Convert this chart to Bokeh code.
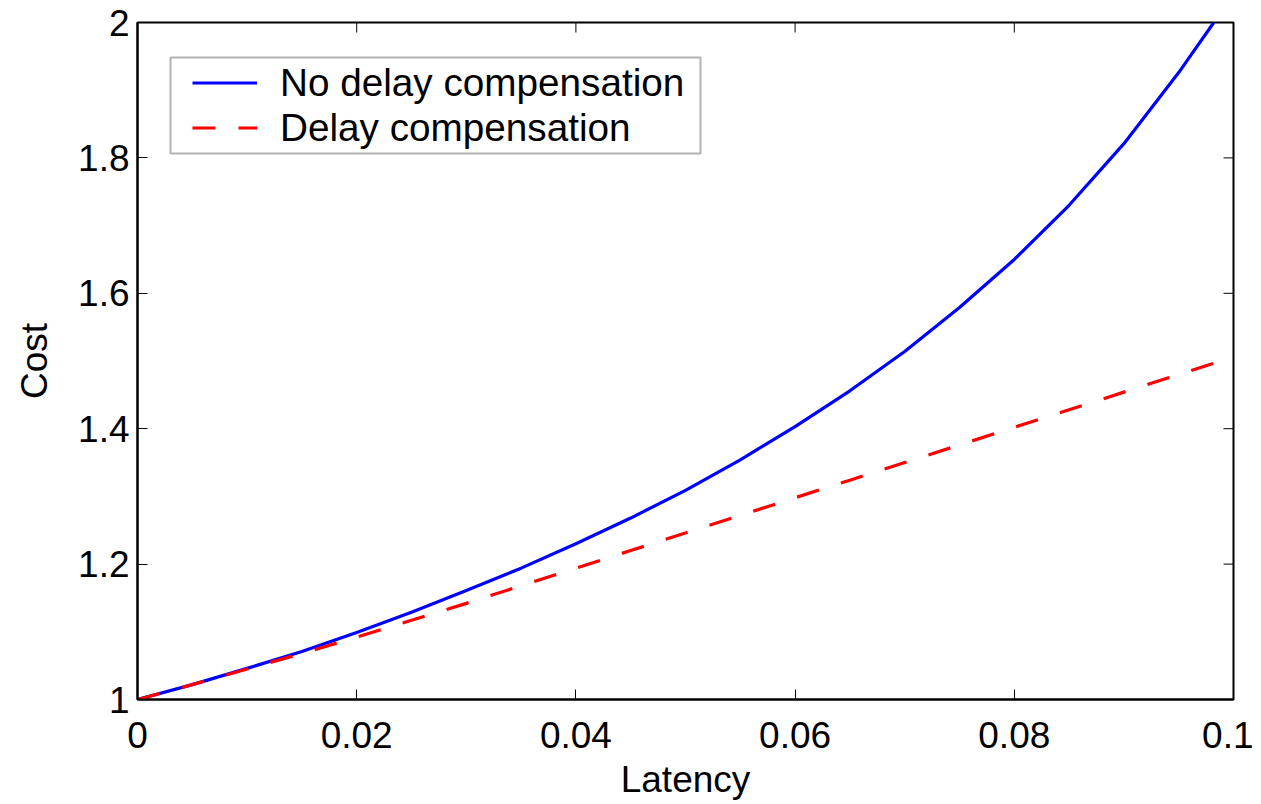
import math
from bokeh.plotting import figure
from bokeh.models import Range1d, FixedTicker, NumeralTickFormatter, BoxAnnotation
from bokeh.embed import file_html
from bokeh.resources import INLINE

# Data
latency = [0.0, 0.005, 0.01, 0.015, 0.02, 0.025, 0.03, 0.035, 0.04, 0.045, 0.05,
           0.055, 0.06, 0.065, 0.07, 0.075, 0.08, 0.085, 0.09, 0.095, 0.0982]
cost_no_comp = [1.000, 1.022, 1.046, 1.071, 1.099, 1.129, 1.161, 1.194, 1.230, 1.268, 1.309,
                1.354, 1.403, 1.456, 1.514, 1.579, 1.650, 1.730, 1.821, 1.926, 2.000]

latency_comp = [0.0, 0.005, 0.01, 0.015, 0.02, 0.025, 0.03, 0.035, 0.04, 0.045, 0.05,
                0.055, 0.06, 0.065, 0.07, 0.075, 0.08, 0.085, 0.09, 0.095, 0.1]
cost_comp = [1.000, 1.022, 1.045, 1.068, 1.092, 1.117, 1.142, 1.168, 1.194, 1.220, 1.246,
             1.272, 1.298, 1.324, 1.350, 1.376, 1.402, 1.428, 1.454, 1.480, 1.506]

x_ticks = [0, 0.02, 0.04, 0.06, 0.08, 0.1]
y_ticks = [1, 1.2, 1.4, 1.6, 1.8, 2]

series_names = ["No delay compensation", "Delay compensation"]

FONT = "Liberation Sans"
FS = "37px"
LEG_FS = "38.7px"

X0, X1 = 0, 0.1
Y0, Y1 = 1, 2

p = figure(frame_width=1096, frame_height=677,
           min_border_left=137, min_border_right=20, min_border_top=22, min_border_bottom=97,
           x_range=Range1d(X0, X1), y_range=Range1d(Y0, Y1),
           output_backend="svg", toolbar_location=None)

p.grid.visible = False
p.background_fill_color = "white"
p.border_fill_color = "white"
p.outline_line_color = "black"
p.outline_line_width = 2

p.line(latency, cost_no_comp, line_color="#0000ff", line_width=3.2,
       line_join="round", legend_label=series_names[0])
p.line(latency_comp, cost_comp, line_color="#ff0000", line_width=3.2, line_dash="23 23",
       legend_label=series_names[1])

# mirrored inward ticks on top and right edges
p.ray(x=x_ticks, y=[Y1] * len(x_ticks), length=10, length_units="screen",
      angle=-math.pi / 2, line_color="black", line_width=1)
p.ray(x=[X1] * len(y_ticks), y=y_ticks, length=10, length_units="screen",
      angle=math.pi, line_color="black", line_width=1)

for ax in [p.xaxis[0], p.yaxis[0]]:
    ax.major_tick_in = 10
    ax.major_tick_out = 0
    ax.minor_tick_line_color = None
    ax.axis_line_color = "black"
    ax.axis_line_width = 2
    ax.major_tick_line_color = "black"
    ax.major_tick_line_width = 1
    ax.major_label_text_font = FONT
    ax.major_label_text_font_size = FS
    ax.major_label_text_color = "black"
    ax.axis_label_text_font = FONT
    ax.axis_label_text_font_size = FS
    ax.axis_label_text_font_style = "normal"
    ax.axis_label_text_color = "black"

p.xaxis[0].ticker = FixedTicker(ticks=x_ticks)
p.xaxis[0].formatter = NumeralTickFormatter(format="0.[00]")
p.xaxis[0].axis_label = "Latency"
p.xaxis[0].major_label_standoff = 22
p.xaxis[0].axis_label_standoff = 8

p.yaxis[0].ticker = FixedTicker(ticks=y_ticks)
p.yaxis[0].formatter = NumeralTickFormatter(format="0.[0]")
p.yaxis[0].axis_label = "Cost"
p.yaxis[0].major_label_standoff = 8
p.yaxis[0].axis_label_standoff = 20

# legend frame
box = BoxAnnotation(left=33, right=563, bottom=546, top=642,
                    left_units="screen", right_units="screen",
                    bottom_units="screen", top_units="screen",
                    fill_color="white", fill_alpha=1.0,
                    line_color="black", line_width=2, level="underlay")
p.add_layout(box)

lg = p.legend[0]
lg.location = (55, 549)
lg.padding = 0
lg.margin = 0
lg.spacing = 0
lg.glyph_width = 65
lg.glyph_height = 45
lg.label_height = 45
lg.label_standoff = 23
lg.label_text_font = FONT
lg.label_text_font_size = LEG_FS
lg.label_text_color = "black"
lg.border_line_color = None
lg.background_fill_alpha = 0

open("out.html", "w").write(file_html(p, INLINE))
